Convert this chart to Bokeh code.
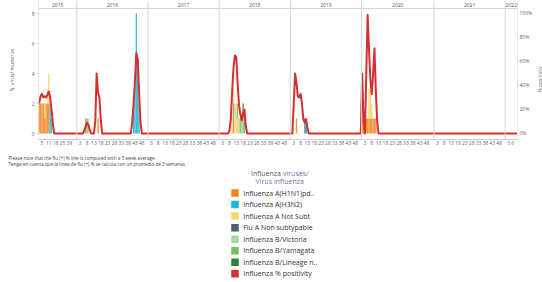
import numpy as np
from bokeh.plotting import figure
from bokeh.models import Range1d, LinearAxis, FixedTicker, ColumnDataSource, Span
from bokeh.layouts import column, row
from bokeh.embed import file_html
from bokeh.resources import INLINE
from bokeh.core.properties import value

# ---------------- data ----------------
YEARS = ["2015", "2016", "2017", "2018", "2019", "2020", "2021", "2022"]
PANEL_WEEKS = [28, 52, 52, 52, 52, 53, 52, 9]

TICK_SLOTS_2015 = [3, 8, 13, 18, 23]
TICK_LABELS_2015 = ["5", "11", "18", "25", "39"]
TICK_WEEKS_FULL = [3, 8, 13, 18, 23, 28, 33, 38, 43, 48]
TICK_WEEKS_2022 = [3, 6]

SERIES = ["Influenza A(H1N1)pd..", "Influenza A(H3N2)", "Influenza A Not Subt",
          "Flu A Non subtypable", "Influenza B/Victoria", "Influenza B/Yamagata",
          "Influenza B/Lineage n.."]
COLORS = ["#F28522", "#1FB6CF", "#FBD36B", "#565E6B", "#A9D6A1", "#78BE6A", "#2F7E3A"]
POS_LABEL = "Influenza % positivity"
POS_COLOR = "#D62F2F"

# counts per year -> {week: n}
H1N1 = {"2015": {1: 2, 2: 2, 3: 2, 4: 2, 5: 1, 6: 2, 7: 2, 8: 2},
        "2016": {7: 1, 16: 1},
        "2018": {11: 2},
        "2019": {5: 1},
        "2020": {1: 1, 2: 1, 4: 1, 5: 1, 6: 1, 7: 1, 8: 1, 9: 1, 10: 1, 11: 1}}
H3N2 = {"2015": {9: 2, 10: 1},
        "2016": {42: 2, 43: 4, 44: 8, 45: 5, 46: 2},
        "2019": {11: 1}}
A_NOT_SUBT = {"2015": {5: 1, 7: 1, 8: 2},
              "2018": {10: 1, 11: 1, 12: 1, 13: 2, 14: 1},
              "2020": {6: 2, 7: 2, 8: 1}}
A_NON_SUBTYPABLE = {"2019": {12: 1}}
B_VICTORIA = {"2016": {9: 1}, "2018": {12: 1, 15: 1, 17: 1}}
B_YAMAGATA = {"2016": {8: 1}, "2018": {14: 1, 16: 1, 18: 1, 19: 1}}
B_LINEAGE_ND = {"2018": {18: 1}}

# % positivity per year -> {week: %}
POS_2015 = {1: 25, 2: 31, 3: 33, 4: 30, 5: 31, 6: 30, 7: 32, 8: 35, 9: 30, 10: 20, 11: 8}
POS_2016 = {6: 3, 7: 6, 8: 9, 9: 7, 10: 3, 14: 10, 15: 50, 16: 34, 17: 30, 18: 12,
            41: 10, 42: 25, 43: 45, 44: 67, 45: 62, 46: 35, 47: 10}
POS_2017 = {}
POS_2018 = {8: 2, 9: 12, 10: 35, 11: 55, 12: 65, 13: 64, 14: 42, 15: 24, 16: 16,
            17: 11, 18: 17, 19: 20, 20: 6}
POS_2019 = {3: 25, 4: 50, 5: 42, 6: 31, 7: 30, 8: 33, 9: 25, 10: 12, 11: 9, 12: 12, 13: 5}
POS_2020 = {1: 50, 2: 10, 4: 50, 5: 99, 6: 70, 7: 45, 8: 33, 9: 50, 10: 71, 11: 35, 12: 10}
POS_2021 = {}
POS_2022 = {}

NOTES = ["Please note that the flu (+) % line is computed with a 3 week average.",
         "Tenga en cuenta que la línea de flu (+) % se calcula con un promedio de 3 semanas."]

# ---------------- build ----------------
OFF = dict(zip(YEARS, np.cumsum([0] + PANEL_WEEKS[:-1]).tolist()))
N = sum(PANEL_WEEKS)
xs = np.arange(1, N + 1)


def fill(by_year):
    arr = np.zeros(N)
    for yr, wk in by_year.items():
        for w, v in wk.items():
            arr[OFF[yr] + w - 1] = v
    return arr


bar_data = [H1N1, H3N2, A_NOT_SUBT, A_NON_SUBTYPABLE, B_VICTORIA, B_YAMAGATA, B_LINEAGE_ND]
src = ColumnDataSource(dict(x=xs, **{f"s{i}": fill(d) for i, d in enumerate(bar_data)}))
pos = fill(dict(zip(YEARS, [POS_2015, POS_2016, POS_2017, POS_2018, POS_2019,
                            POS_2020, POS_2021, POS_2022])))

FONT = "Open Sans"
YR = (-0.4, 8.8667)

p = figure(frame_width=479, frame_height=139, x_range=Range1d(0.5, N + 0.5), y_range=Range1d(*YR),
           output_backend="svg", toolbar_location=None, min_border_left=38,
           min_border_right=17, min_border_top=0, min_border_bottom=11,
           outline_line_color=None, y_axis_label="N. virus/ muestras")
p.extra_y_ranges = {"pct": Range1d(-5, 110.83)}
p.xgrid.visible = False
p.ygrid.visible = False

# separators and header line
bounds = [OFF[y] + 0.5 for y in YEARS] + [N + 0.5]
for b in bounds:
    p.add_layout(Span(location=b, dimension="height", line_color="#d4d4d4", line_width=1))
p.add_layout(Span(location=8.333, dimension="width", line_color="#d4d4d4", line_width=1))

# year labels
centers = [OFF[y] + (n + 1) / 2 for y, n in zip(YEARS, PANEL_WEEKS)]
p.text(x=centers, y=[8.6] * len(YEARS), text=YEARS, text_font=value(FONT),
       text_font_size="5px", text_color="#555555", text_align="center", text_baseline="middle")

# bars
p.vbar_stack([f"s{i}" for i in range(len(SERIES))], x="x", width=1.0, source=src,
             fill_color=COLORS, line_color=None, fill_alpha=0.88)

# positivity line
p.line(xs, pos, y_range_name="pct", line_color=POS_COLOR, line_width=2, line_join="round")

# x axis ticks
tick_pos, tick_lab = [], []
for s, l in zip(TICK_SLOTS_2015, TICK_LABELS_2015):
    tick_pos.append(OFF["2015"] + s)
    tick_lab.append(l)
for y in YEARS[1:-1]:
    for w in TICK_WEEKS_FULL:
        tick_pos.append(OFF[y] + w)
        tick_lab.append(str(w))
for w in TICK_WEEKS_2022:
    tick_pos.append(OFF["2022"] + w)
    tick_lab.append(str(w))

xa = p.xaxis[0]
xa.ticker = FixedTicker(ticks=tick_pos)
xa.major_label_overrides = {t: l for t, l in zip(tick_pos, tick_lab)}
xa.major_label_text_font_size = "5px"
xa.major_label_text_font = FONT
xa.major_label_text_color = "#666666"
xa.major_label_standoff = 1
xa.major_tick_out = 0
xa.major_tick_in = 0
xa.minor_tick_out = 0
xa.axis_line_color = "#cccccc"

ya = p.yaxis[0]
ya.ticker = FixedTicker(ticks=[0, 2, 4, 6, 8])
ya.major_label_text_font_size = "5px"
ya.major_label_text_font = FONT
ya.major_label_text_color = "#666666"
ya.major_tick_out = 2
ya.major_tick_in = 0
ya.minor_tick_out = 0
ya.major_tick_line_color = "#cccccc"
ya.major_label_standoff = 2
ya.axis_line_color = None
ya.axis_label_text_font_size = "5px"
ya.axis_label_text_font = FONT
ya.axis_label_text_font_style = "normal"
ya.axis_label_text_color = "#666666"
ya.axis_label_standoff = 14

ra = LinearAxis(y_range_name="pct", ticker=FixedTicker(ticks=[0, 20, 40, 60, 80, 100]))
ra.major_label_overrides = {v: f"{v}%" for v in [0, 20, 40, 60, 80, 100]}
ra.major_label_text_font_size = "5px"
ra.major_label_text_font = FONT
ra.major_label_text_color = "#666666"
ra.major_tick_out = 0
ra.major_tick_in = 0
ra.minor_tick_out = 0
ra.major_label_standoff = 2
ra.axis_line_color = None
p.add_layout(ra, "right")

# right-axis title strip
r = figure(width=8, height=150, x_range=Range1d(0, 8), y_range=Range1d(*YR),
           output_backend="svg", toolbar_location=None, min_border=0,
           outline_line_color=None, x_axis_type=None, y_axis_type=None)
r.xgrid.visible = False
r.ygrid.visible = False
r.text(x=[4.3], y=[3.6], text=["% positivity"], angle=np.pi / 2, text_font=value(FONT),
       text_font_size="5px", text_color="#666666", text_align="center", text_baseline="middle")

# ---------------- notes + legend ----------------
q = figure(width=542, height=132, x_range=Range1d(0, 542), y_range=Range1d(132, 0),
           output_backend="svg", toolbar_location=None, min_border=0,
           outline_line_color=None, x_axis_type=None, y_axis_type=None)
q.xgrid.visible = False
q.ygrid.visible = False

q.text(x=[8, 8], y=[7, 13.5], text=NOTES, text_font=value(FONT), text_font_size="4.6px",
       text_color="#444444", text_baseline="middle")

# legend title (two-colour words)
q.text(x=[280.5, 271.5], y=[23, 31], text=["Influenza", "Virus"], text_font=value(FONT),
       text_font_size="7px", text_color=["#5b5560", "#6d87b5"], text_align="right",
       text_baseline="middle")
q.text(x=[282.5, 273.5], y=[23, 31], text=["viruses/", "influenza"], text_font=value(FONT),
       text_font_size="7px", text_color=["#8a6a9a", "#8a6a9a"], text_align="left",
       text_baseline="middle")

leg_names = SERIES + [POS_LABEL]
leg_colors = COLORS + [POS_COLOR]
leg_y = [42.5 + 11.55 * i for i in range(len(leg_names))]
q.rect(x=[234.5] * len(leg_names), y=leg_y, width=7.5, height=7.5, fill_color=leg_colors,
       line_color=None)
q.text(x=[242.7] * len(leg_names), y=leg_y, text=leg_names, text_font=value(FONT),
       text_font_size="7px", text_color="#333333", text_baseline="middle")

layout = column(row(p, r, spacing=0), q, spacing=0)

open("out.html", "w").write(file_html(layout, INLINE))
